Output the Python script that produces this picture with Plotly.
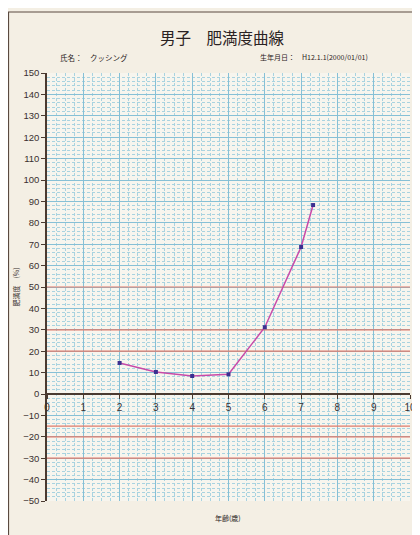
import plotly.graph_objects as go

ages = [2, 3, 4, 5, 6, 7, 7.33]
obesity = [14.5, 10.3, 8.4, 9.2, 31.2, 68.7, 88.3]
ref_lines = [50, 30, 20, -15, -20, -30]
x_ticks = list(range(0, 11))
y_ticks = list(range(-50, 151, 10))

title_text = "男子　肥満度曲線"
name_text = "氏名：　クッシング"
birth_text = "生年月日：　H12.1.1(2000/01/01)"
xlabel = "年齢(歳)"
ylabel = "肥満度　(%)"

JP = "Noto Sans CJK JP"
fig = go.Figure()

for v in ref_lines:
    fig.add_trace(go.Scatter(x=[0, 10], y=[v, v], mode="lines",
                             line=dict(color="#e07a6a", width=1.2),
                             hoverinfo="skip", showlegend=False))

fig.add_trace(go.Scatter(x=ages, y=obesity, mode="lines+markers",
                         line=dict(color="#c84aa8", width=1.5),
                         marker=dict(symbol="square", size=4, color="#3b2f8f"),
                         showlegend=False))

fig.update_layout(
    width=412, height=527,
    margin=dict(l=39, r=10, t=65, b=34),
    paper_bgcolor="#f4efe4",
    plot_bgcolor="#f7f5ee",
    font=dict(family=JP, color="#3a3030"),
    xaxis=dict(range=[0, 10], tickvals=x_ticks, anchor="free", position=0.25,
               automargin=False,
               showline=True, linecolor="#4a3a30", linewidth=1.5,
               ticks="outside", ticklen=4, tickcolor="#4a3a30",
               tickfont=dict(size=10, family="Liberation Sans", color="#3a3030"),
               showgrid=True, gridcolor="#86c0d6", gridwidth=1,
               zeroline=False,
               minor=dict(dtick=0.25, showgrid=True, gridcolor="#a9d3e0",
                          griddash="3px,2px", gridwidth=1)),
    yaxis=dict(range=[-50, 150], tickvals=y_ticks, automargin=False,
               showline=True, linecolor="#4a3a30", linewidth=1.5,
               ticks="outside", ticklen=4, tickcolor="#4a3a30",
               tickfont=dict(size=9.5, family="Liberation Sans", color="#3a3030"),
               showgrid=True, gridcolor="#86c0d6", gridwidth=1,
               zeroline=False,
               title=dict(text=ylabel, font=dict(size=7, family=JP), standoff=3),
               minor=dict(dtick=2, showgrid=True, gridcolor="#a9d3e0",
                          griddash="3px,2px", gridwidth=1)),
)

# page frame
fig.add_shape(type="rect", xref="paper", yref="paper",
              x0=(8.5 - 47) / 363, x1=(440 - 47) / 363,
              y0=(501 - 560) / 428, y1=(501 - 12) / 428,
              line=dict(color="#5a4a40", width=1.2), fillcolor="rgba(0,0,0,0)",
              layer="below")

fig.add_annotation(text=title_text, xref="paper", yref="paper",
                   x=(222 - 47) / 363, y=(501 - 37) / 428, showarrow=False,
                   xanchor="center", yanchor="middle",
                   font=dict(size=15.5, family=JP, color="#2a2222"))
fig.add_annotation(text=name_text, xref="paper", yref="paper",
                   x=(58 - 47) / 363, y=(501 - 57) / 428, xanchor="left",
                   yanchor="middle",
                   showarrow=False, font=dict(size=7.5, family=JP, color="#2a2222"))
fig.add_annotation(text=birth_text, xref="paper", yref="paper",
                   x=(258 - 47) / 363, y=(501 - 57) / 428, xanchor="left",
                   yanchor="middle",
                   showarrow=False, font=dict(size=7, family=JP, color="#2a2222"))
fig.add_annotation(text=xlabel, xref="paper", yref="paper",
                   x=(228 - 47) / 363, y=(501 - 518) / 428, showarrow=False,
                   xanchor="center", yanchor="middle",
                   font=dict(size=7, family=JP, color="#2a2222"))

fig.write_html("out.html")
